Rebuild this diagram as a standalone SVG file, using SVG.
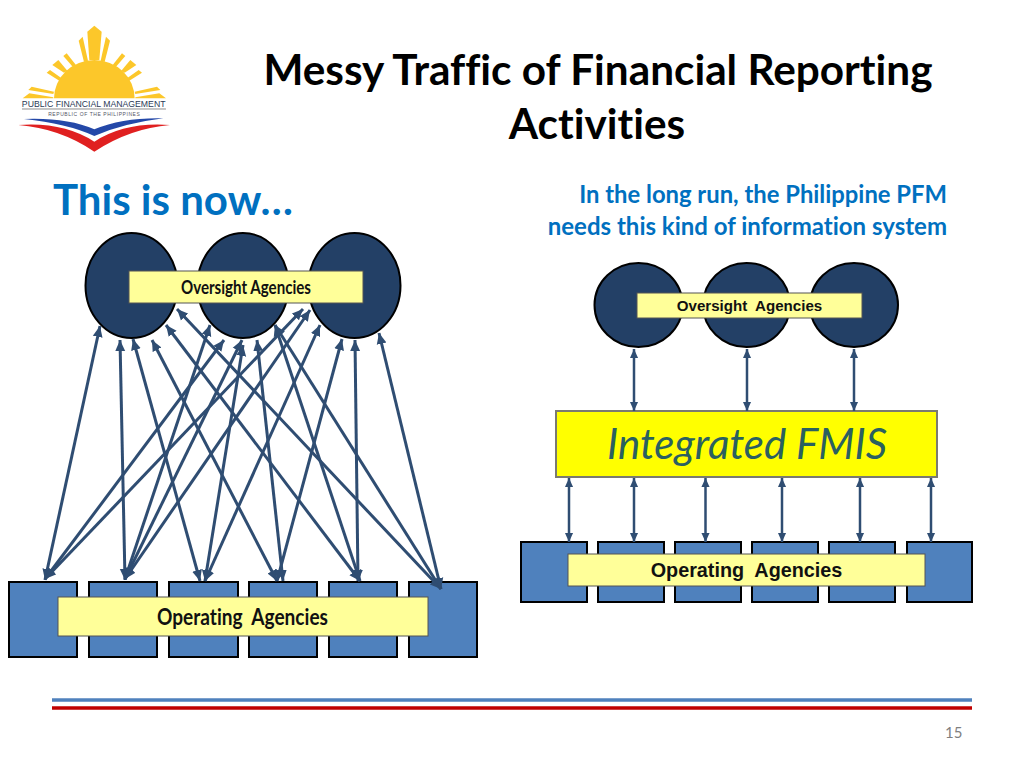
<svg xmlns="http://www.w3.org/2000/svg" width="1024" height="768" viewBox="0 0 1024 768">
<style>
text{font-variant-ligatures:none}
.t{font-family:Lato,"Liberation Sans",sans-serif;font-weight:700}
.title{font-size:42.300px;fill:#000;text-anchor:middle}
.blue{fill:#0070c0}
.a{font-family:"Liberation Sans",Arial,sans-serif;font-weight:700;fill:#111;text-anchor:middle}
.o{fill:#234066;stroke:#000;stroke-width:2}
.s{fill:#4f81bd;stroke:#000;stroke-width:2}
.l{fill:#ffff99;stroke:#555;stroke-width:1}
.c line{stroke:#2f4d72;stroke-width:3;marker-start:url(#h);marker-end:url(#h)}
.c2 line{stroke:#2f4d72;stroke-width:2.500;marker-start:url(#h2);marker-end:url(#h2)}
</style>
<defs>
<marker id="h" viewBox="0 0 10 10" refX="10" refY="5" markerWidth="11" markerHeight="11" markerUnits="userSpaceOnUse" orient="auto-start-reverse"><path d="M0,0.500L10,5L0,9.500Z" fill="#2f4d72"/></marker>
<marker id="h2" viewBox="0 0 10 10" refX="10" refY="5" markerWidth="9" markerHeight="9" markerUnits="userSpaceOnUse" orient="auto-start-reverse"><path d="M0,0.500L10,5L0,9.500Z" fill="#2f4d72"/></marker>
</defs>
<rect width="1024" height="768" fill="#fff"/>
<g id="logo" transform="translate(0,10) scale(.3333)">
<g fill="#fcc72a">
<path d="M162,265A121,115 0 0 1 404,265Z"/>
<path d="M283,47L305,65L298,150L268,150L262,65Z"/>
<path d="M236,92L248,80L264,152L252,156Z"/><path d="M330,92L318,80L302,152L314,156Z"/>
<path d="M157,165L175,150L202,182L192,188Z"/><path d="M409,165L391,150L364,182L374,188Z"/>
<path d="M190,138L200,130L232,170L222,175Z"/><path d="M376,138L366,130L334,170L344,175Z"/>
<path d="M140,188L150,180L185,205L178,212Z"/><path d="M426,188L416,180L381,205L388,212Z"/>
<path d="M95,230L162,245L160,252L85,240Z"/><path d="M471,230L404,245L406,252L481,240Z"/>
<path d="M68,265L88,250L160,262V265Z"/><path d="M498,265L478,250L406,262V265Z"/>
</g>
<text x="281" y="291" font-family="'Liberation Sans',sans-serif" font-size="29" fill="#2b3a55" text-anchor="middle" textLength="431" lengthAdjust="spacingAndGlyphs">PUBLIC FINANCIAL MANAGEMENT</text>
<path d="M66,297H498" stroke="#555" stroke-width="2"/>
<text x="282" y="317" font-family="'Liberation Sans',sans-serif" font-size="15" fill="#556" text-anchor="middle" textLength="275">REPUBLIC OF THE PHILIPPINES</text>
<path d="M72,327Q200,322 283,358Q370,322 490,325Q370,340 283,378Q200,340 72,327Z" fill="#2448a8"/>
<path d="M55,345Q190,335 283,395Q375,335 510,345Q390,355 283,425Q180,355 55,345Z" fill="#e02020"/>
</g>
<text class="t title" x="598" y="85">Messy Traffic of Financial Reporting</text>
<text class="t title" x="597" y="139">Activities</text>
<text class="t blue" x="53" y="215" font-size="42">This is now…</text>
<text class="t blue" x="947" y="203" font-size="23.800" text-anchor="end">In the long run, the Philippine PFM</text>
<text class="t blue" x="947" y="235" font-size="24" text-anchor="end">needs this kind of information system</text>

<g id="left-oversight">
<ellipse class="o" cx="131.500" cy="285.500" rx="46" ry="52.500"/>
<ellipse class="o" cx="243" cy="285.500" rx="45.500" ry="52.500"/>
<ellipse class="o" cx="354.500" cy="285.500" rx="46" ry="52.500"/>
<rect class="l" x="129" y="271" width="234" height="32"/>
<text class="t" x="181" y="294" font-size="18" fill="#111" textLength="130" lengthAdjust="spacingAndGlyphs">Oversight Agencies</text>
</g>
<g id="left-operating">
<rect class="s" x="9" y="582" width="68" height="75"/>
<rect class="s" x="89" y="582" width="68" height="75"/>
<rect class="s" x="169" y="582" width="69" height="75"/>
<rect class="s" x="249" y="582" width="68" height="75"/>
<rect class="s" x="329" y="582" width="68" height="75"/>
<rect class="s" x="409" y="582" width="68" height="75"/>
<rect class="l" x="58" y="597" width="370" height="39"/>
<text class="t" x="157" y="625" font-size="22" fill="#111" xml:space="preserve" textLength="171" lengthAdjust="spacingAndGlyphs">Operating  Agencies</text>
</g>
<g id="left-connectors" class="c">
<line x1="100" y1="326" x2="45" y2="580"/>
<line x1="224" y1="340" x2="45" y2="579"/>
<line x1="303" y1="309" x2="45" y2="579"/>
<line x1="120" y1="340" x2="125" y2="580"/>
<line x1="210" y1="325" x2="125" y2="579"/>
<line x1="242" y1="340" x2="125" y2="579"/>
<line x1="310" y1="310" x2="125" y2="579"/>
<line x1="133" y1="339" x2="200" y2="581"/>
<line x1="243" y1="345" x2="205" y2="581"/>
<line x1="320" y1="325" x2="205" y2="581"/>
<line x1="152" y1="340" x2="277" y2="581"/>
<line x1="257" y1="340" x2="283" y2="581"/>
<line x1="342" y1="339" x2="277" y2="581"/>
<line x1="166" y1="325" x2="360" y2="581"/>
<line x1="275" y1="325" x2="360" y2="581"/>
<line x1="355" y1="340" x2="358" y2="581"/>
<line x1="177" y1="309" x2="441" y2="589"/>
<line x1="275" y1="325" x2="441" y2="589"/>
<line x1="379" y1="333" x2="441" y2="589"/>
</g>

<g id="right-oversight">
<ellipse class="o" cx="638.500" cy="305" rx="44" ry="42"/>
<ellipse class="o" cx="746.500" cy="305" rx="43.500" ry="42"/>
<ellipse class="o" cx="854" cy="305" rx="44" ry="42"/>
<rect class="l" x="637" y="293" width="225" height="25"/>
<text class="a" x="749.500" y="311" font-size="15.100" xml:space="preserve">Oversight  Agencies</text>
</g>
<g id="integrated-fmis">
<rect x="556" y="411" width="381" height="66" fill="#ffff00" stroke="#7a7a70" stroke-width="2"/>
<text x="747" y="459" font-family="Lato,'Liberation Sans',sans-serif" font-style="italic" font-size="42" fill="#2a6060" text-anchor="middle">Integrated FMIS</text>
</g>
<g id="right-operating">
<rect class="s" x="521" y="542" width="66" height="60"/>
<rect class="s" x="598" y="542" width="66" height="60"/>
<rect class="s" x="675" y="542" width="66" height="60"/>
<rect class="s" x="752" y="542" width="66" height="60"/>
<rect class="s" x="829" y="542" width="66" height="60"/>
<rect class="s" x="907" y="542" width="65" height="60"/>
<rect class="l" x="568" y="554" width="357" height="32"/>
<text class="a" x="746.500" y="577" font-size="19.800" xml:space="preserve">Operating  Agencies</text>
</g>
<g id="right-connectors" class="c2">
<line x1="634" y1="349" x2="634" y2="411"/>
<line x1="747" y1="349" x2="747" y2="411"/>
<line x1="854" y1="349" x2="854" y2="411"/>
<line x1="569" y1="478" x2="569" y2="542"/>
<line x1="634" y1="478" x2="634" y2="542"/>
<line x1="705.500" y1="478" x2="705.500" y2="542"/>
<line x1="782" y1="478" x2="782" y2="542"/>
<line x1="860" y1="478" x2="860" y2="542"/>
<line x1="931" y1="478" x2="931" y2="542"/>
</g>
<path d="M52,700H972" stroke="#4f81bd" stroke-width="3.500"/>
<path d="M52,708H972" stroke="#c00000" stroke-width="3.500"/>
<text x="945" y="738" font-family="Lato,'Liberation Sans',sans-serif" font-size="15" fill="#7f7f7f">15</text>
</svg>
